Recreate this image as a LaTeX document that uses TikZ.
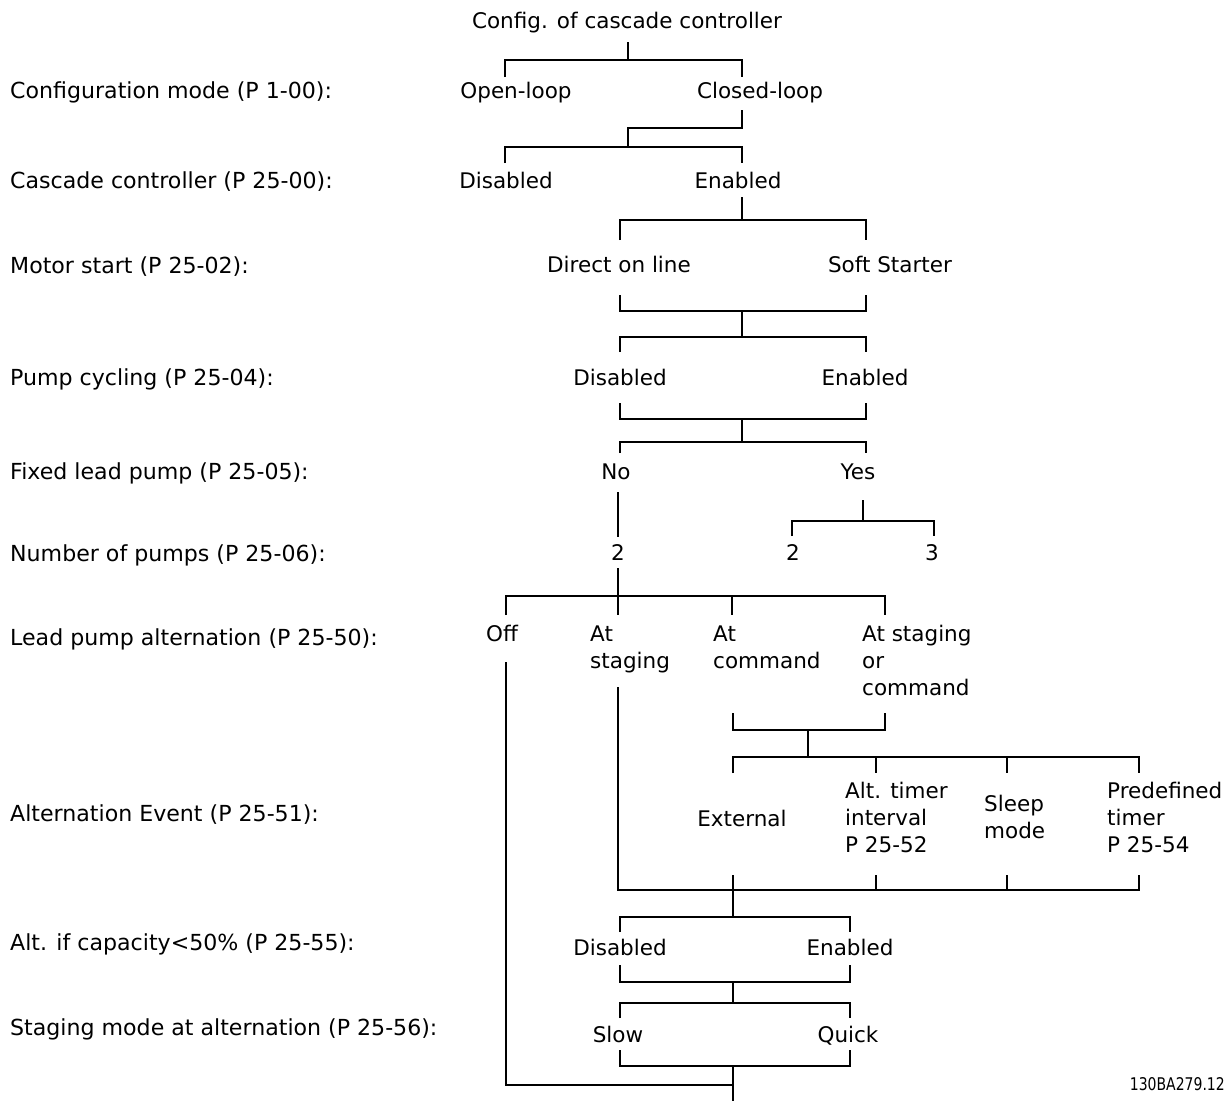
\documentclass[tikz,border=0pt]{standalone}
\usepackage{fontspec}
\setmainfont{DejaVu Sans}
\newfontfamily\narrowfont[FakeStretch=0.8]{DejaVu Sans}
\begin{document}
\begin{tikzpicture}[x=1pt,y=-1pt,
  every node/.style={font=\fontsize{21.5}{27}\selectfont, inner sep=0pt},
  lbl/.style={anchor=base west, font=\fontsize{22.1}{27}\selectfont},
  opt/.style={anchor=base},
  optl/.style={anchor=base west, align=left},
  ln/.style={line width=1.4pt}]
\useasboundingbox (0,0) rectangle (1232,1101);
% left labels
\node[lbl] (l1) at (10,98) {Configuration mode (P 1-00):};
\node[lbl] (l2) at (10,188) {Cascade controller (P 25-00):};
\node[lbl] (l3) at (10,273) {Motor start (P 25-02):};
\node[lbl] (l4) at (10,385) {Pump cycling (P 25-04):};
\node[lbl] (l5) at (10,479) {Fixed lead pump (P 25-05):};
\node[lbl] (l6) at (10,561) {Number of pumps (P 25-06):};
\node[lbl] (l7) at (10,645) {Lead pump alternation (P 25-50):};
\node[lbl] (l8) at (10,821) {Alternation Event (P 25-51):};
\node[lbl] (l9) at (10,950) {Alt. if capacity<50\% (P 25-55):};
\node[lbl] (l10) at (10,1035) {Staging mode at alternation (P 25-56):};
% tree nodes
\node[opt] (root) at (627,28) {Config. of cascade controller};
\node[opt] (ol) at (516,98) {Open-loop};
\node[opt] (cl) at (760,98) {Closed-loop};
\node[opt] (cd) at (506,188) {Disabled};
\node[opt] (ce) at (738,188) {Enabled};
\node[opt] (md) at (619,272) {Direct on line};
\node[opt] (ms) at (890,272) {Soft Starter};
\node[opt] (pd) at (620,385) {Disabled};
\node[opt] (pe) at (865,385) {Enabled};
\node[opt] (fn) at (616,479) {No};
\node[opt] (fy) at (858,479) {Yes};
\node[opt] (n2) at (618,560) {2};
\node[opt] (y2) at (793,560) {2};
\node[opt] (y3) at (932,560) {3};
\node[optl] (off) at (486,641) {Off};
\node[optl] (ast) at (590,668) {At\\staging};
\node[optl] (acm) at (713,668) {At\\command};
\node[optl] (asc) at (862,695) {At staging\\or\\command};
\node[opt] (ext) at (742,826) {External};
\node[optl] (alt) at (845,852) {Alt. timer\\interval\\P 25-52};
\node[optl] (slp) at (984,838) {Sleep\\mode};
\node[optl] (pre) at (1107,852) {Predefined\\timer\\P 25-54};
\node[opt] (cpd) at (620,955) {Disabled};
\node[opt] (cpe) at (850,955) {Enabled};
\node[opt] (sl) at (618,1042) {Slow};
\node[opt] (sq) at (848,1042) {Quick};
\node[anchor=base east, font=\narrowfont\fontsize{17.5}{20}\selectfont] (id) at (1225,1090) {130BA279.12};
% connectors
\coordinate (h1) at (628,60);
\draw[ln] (628,42) -- (h1);
\draw[ln] (505,77) -- (505,60) -- (742,60) -- (742,77);
\coordinate (h2) at (628,147);
\draw[ln] (742,110) -- (742,128) -- (628,128) -- (h2);
\draw[ln] (505,163) -- (505,147) -- (742,147) -- (742,163);
\draw[ln] (742,197) -- (742,220);
\draw[ln] (620,240) -- (620,220) -- (866,220) -- (866,240);
\coordinate (h3) at (742,311);
\draw[ln] (620,295) -- (620,311) -- (866,311) -- (866,295);
\draw[ln] (h3) -- (742,337);
\draw[ln] (620,352) -- (620,337) -- (866,337) -- (866,352);
\coordinate (h4) at (742,419);
\draw[ln] (620,403) -- (620,419) -- (866,419) -- (866,403);
\draw[ln] (h4) -- (742,442);
\draw[ln] (620,453) -- (620,442) -- (866,442) -- (866,453);
\draw[ln] (618,492) -- (618,537);
\draw[ln] (863,500) -- (863,521);
\draw[ln] (792,536) -- (792,521) -- (934,521) -- (934,536);
\draw[ln] (618,568) -- (618,615);
\draw[ln] (506,615) -- (506,596) -- (885,596) -- (885,615);
\draw[ln] (732,596) -- (732,615);
\coordinate (fin) at (733,1101);
\draw[ln] (506,662) -- (506,1085) -- (733,1085);
\draw[ln] (618,687) -- (618,890) -- (1139,890) -- (1139,875);
\draw[ln] (876,875) -- (876,890);
\draw[ln] (1007,875) -- (1007,890);
\draw[ln] (733,713) -- (733,730) -- (885,730) -- (885,713);
\draw[ln] (808,730) -- (808,757);
\draw[ln] (733,773) -- (733,757) -- (1139,757) -- (1139,773);
\draw[ln] (876,757) -- (876,773);
\draw[ln] (1007,757) -- (1007,773);
\draw[ln] (733,875) -- (733,917);
\draw[ln] (620,932) -- (620,917) -- (850,917) -- (850,932);
\draw[ln] (620,965) -- (620,982) -- (850,982) -- (850,965);
\draw[ln] (733,982) -- (733,1003);
\draw[ln] (620,1018) -- (620,1003) -- (850,1003) -- (850,1018);
\draw[ln] (620,1050) -- (620,1066) -- (850,1066) -- (850,1050);
\draw[ln] (733,1066) -- (fin);
\end{tikzpicture}
\end{document}
